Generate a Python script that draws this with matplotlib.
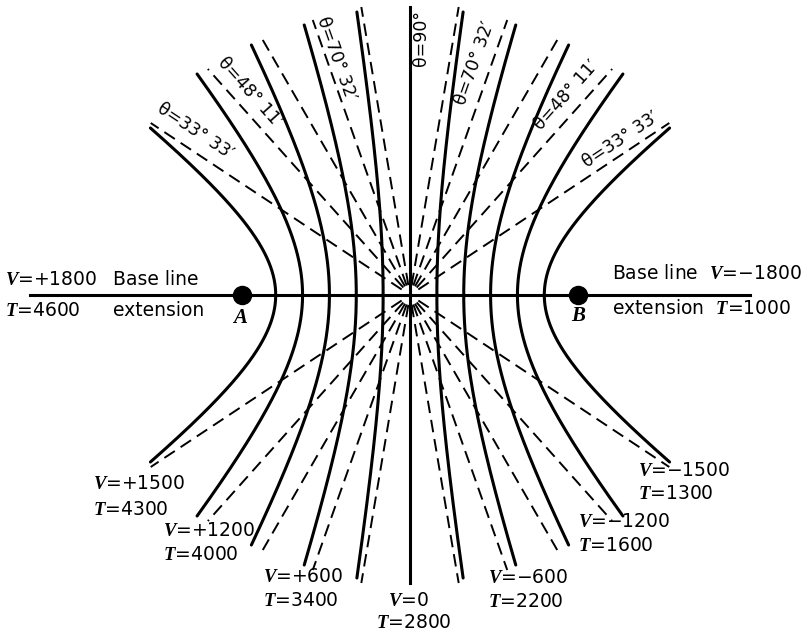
import numpy as np
import matplotlib
matplotlib.use("Agg")
import matplotlib.pyplot as plt

# ---------------- data ----------------
V_values = [1500, 1200, 900, 600, 300, 0]          # hyperbola time differences (|V|)
T_offset = 2800                                      # T = 2800 + V
bottom_left_V = [1500, 1200, 600, 0]                 # labelled curves (left / centre)
bottom_right_V = [-600, -1200, -1500]                # labelled curves (right)
theta_V = [1500, 1200, 600, 0]                       # asymptotes that carry a theta label
theta_text = ["33° 33′", "48° 11′", "70° 32′", "90°"]
baseline_V = [1800, -1800]

# ---------------- geometry of the drawing ----------------
PX = 11.17               # data units per pixel
CX, CY = 410, 295        # pixel position of the centre of the base line
FOCUS = 168 * PX         # station distance from centre (as drawn)
y_extent_px = {1500: 167, 1200: 221, 900: 250, 600: 270, 300: 283, 0: 288}


def P(x, y):
    """pixel -> data coordinates"""
    return (x - CX) * PX, (CY - y) * PX


plt.rcParams["mathtext.fontset"] = "custom"
plt.rcParams["mathtext.it"] = "Liberation Serif:italic:bold"
plt.rcParams["mathtext.rm"] = "DejaVu Sans"
plt.rcParams["lines.scale_dashes"] = False
plt.rcParams["font.family"] = ["DejaVu Sans"]

fig = plt.figure(figsize=(8.05, 6.36), dpi=100)
ax = fig.add_axes([0, 0, 1, 1])
ax.set_xlim(P(0, 0)[0], P(805, 0)[0])
ax.set_ylim(P(0, 636)[1], P(0, 0)[1])
ax.axis("off")

# hyperbolas
for V in V_values:
    Y = y_extent_px[V] * PX
    y = np.linspace(-Y, Y, 400)
    if V == 0:
        ax.plot(np.zeros_like(y), y, color="black", lw=2.2)
        continue
    b = np.sqrt(FOCUS ** 2 - V ** 2)
    x = V * np.sqrt(1 + (y / b) ** 2)
    ax.plot(-x, y, color="black", lw=2.2, solid_capstyle="round")
    ax.plot(x, y, color="black", lw=2.2, solid_capstyle="round")

# asymptotes (dashed)
for V in V_values:
    if V == 0:
        continue
    th = np.arccos(V / 1800.0)
    r0 = 10 * PX
    r1 = (y_extent_px[V] + 5) * PX / np.sin(th)
    r = np.array([r0, r1])
    for sx in (-1, 1):
        for sy in (-1, 1):
            ax.plot(sx * r * np.cos(th), sy * r * np.sin(th), color="black",
                    lw=1.4, linestyle=(0, (9, 5)))

# base line and stations
bx0, _ = P(30, 0)
bx1, _ = P(750, 0)
ax.plot([bx0, bx1], [0, 0], color="black", lw=2.2)
ax.plot([-FOCUS, FOCUS], [0, 0], "o", color="black", markersize=13)
ax.text(*P(240, 318), "A", ha="center", va="center", fontsize=15,
        family="Liberation Serif", style="italic", weight="bold")
ax.text(*P(578, 316), "B", ha="center", va="center", fontsize=15,
        family="Liberation Serif", style="italic", weight="bold")

FS = 13.5


def vt(V):
    if V > 0:
        return r"$V$=+%d" % V
    if V < 0:
        return r"$V$=−%d" % (-V)
    return r"$V$=0"


def tt(V):
    return r"$T$=%d" % (T_offset + V)


# base line labels
ax.text(*P(5, 279), vt(baseline_V[0]), ha="left", va="center", fontsize=FS)
ax.text(*P(113, 279), "Base line", ha="left", va="center", fontsize=FS)
ax.text(*P(5, 310), tt(baseline_V[0]), ha="left", va="center", fontsize=FS)
ax.text(*P(113, 310), "extension", ha="left", va="center", fontsize=FS)
ax.text(*P(612, 273), "Base line  " + vt(baseline_V[1]), ha="left", va="center", fontsize=FS)
ax.text(*P(612, 308), "extension  " + tt(baseline_V[1]), ha="left", va="center", fontsize=FS)

# bottom labels
left_pos = {1500: (93, 483, 509), 1200: (163, 530, 555), 600: (263, 576, 600)}
for V in bottom_left_V:
    if V == 0:
        ax.text(*P(408, 600), vt(V), ha="center", va="center", fontsize=FS)
        ax.text(*P(414, 622), tt(V), ha="center", va="center", fontsize=FS)
        continue
    x, yv, yt = left_pos[V]
    ax.text(*P(x, yv), vt(V), ha="left", va="center", fontsize=FS)
    ax.text(*P(x, yt), tt(V), ha="left", va="center", fontsize=FS)

right_pos = {-600: (488, 577, 601), -1200: (578, 521, 545), -1500: (638, 470, 493)}
for V in bottom_right_V:
    x, yv, yt = right_pos[V]
    ax.text(*P(x, yv), vt(V), ha="left", va="center", fontsize=FS)
    ax.text(*P(x, yt), tt(V), ha="left", va="center", fontsize=FS)

# theta labels
left_theta_pos = {1500: (195, 131), 1200: (250, 92), 600: (336, 59)}
right_theta_pos = {1500: (621, 140), 1200: (566, 95), 600: (475, 63)}
for V, lab in zip(theta_V, theta_text):
    s = "θ=" + lab
    if V == 0:
        ax.text(*P(421, 38), s, rotation=90, ha="center", va="center",
                fontsize=12.5, rotation_mode="anchor")
        continue
    ang = np.degrees(np.arccos(V / 1800.0))
    ax.text(*P(*left_theta_pos[V]), s, rotation=-ang, ha="center", va="center",
            fontsize=12.5, rotation_mode="anchor")
    ax.text(*P(*right_theta_pos[V]), s, rotation=ang, ha="center", va="center",
            fontsize=12.5, rotation_mode="anchor")

fig.savefig("out.png", dpi=100, facecolor="white")
